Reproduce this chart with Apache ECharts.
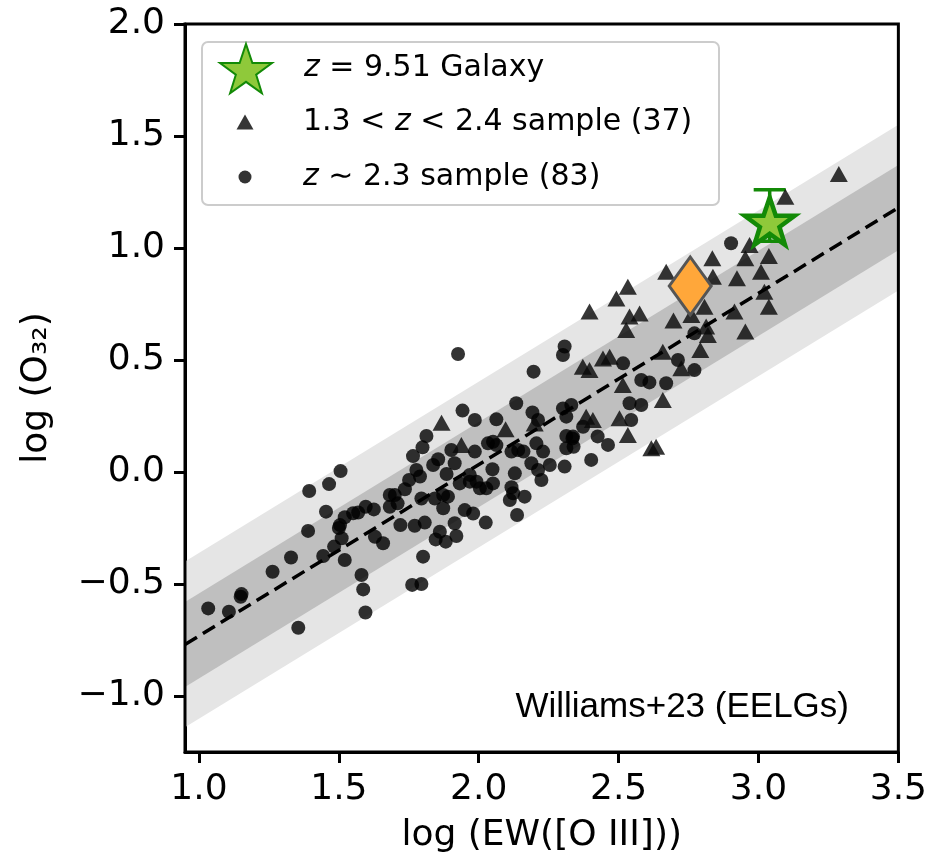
<!DOCTYPE html>
<html>
<head>
<meta charset="utf-8">
<script src="https://cdn.jsdelivr.net/npm/echarts@6/dist/echarts.min.js"></script>
<style>
  html, body { margin: 0; padding: 0; background: #fff; }
  #chart { width: 930px; height: 863px; }
</style>
</head>
<body>
<div id="chart"></div>
<script>
// axis ticks
const xTicks = [1.0, 1.5, 2.0, 2.5, 3.0, 3.5]
const yTicks = [-1.0, -0.5, 0.0, 0.5, 1.0, 1.5, 2.0]

// fit line (Williams+23) and scatter bands
const fitX = [0.95, 3.5]
const fitY = [-0.77, 1.18]
const bandHalf = [0.37, 0.19]

// z~2.3 sample
const circles = [
  [1.033, -0.609], [1.107, -0.624], [1.152, -0.545], [1.149, -0.557], [1.263, -0.445], [1.329, -0.382], [1.355, -0.695],
  [1.394, -0.085], [1.390, -0.263], [1.454, -0.177], [1.465, -0.054], [1.506, 0.004], [1.444, -0.375], [1.483, -0.333],
  [1.521, -0.393], [1.504, -0.237], [1.500, -0.250], [1.510, -0.296], [1.521, -0.202], [1.551, -0.184], [1.569, -0.181],
  [1.596, -0.155], [1.625, -0.167], [1.581, -0.460], [1.587, -0.524], [1.595, -0.627], [1.629, -0.289],
  [1.762, -0.504], [1.795, -0.500],
  [2.134, 0.307], [1.942, 0.274], [1.986, 0.232], [2.063, 0.235], [2.192, 0.266], [2.212, 0.232], [2.301, 0.284], [2.331, 0.299], [2.313, 0.247],
  [1.813, 0.161], [1.799, 0.110], [1.765, 0.071], [1.777, 0.009], [1.751, -0.036], [1.790, -0.020], [1.855, 0.057], [1.902, 0.098], [1.914, 0.039], [1.885, -0.009],
  [1.986, 0.091], [2.051, 0.135], [2.033, 0.128], [2.063, 0.120], [2.117, 0.091], [2.141, 0.098], [2.160, 0.091], [2.206, 0.128], [2.230, 0.091], [2.188, 0.039],
  [2.254, 0.031], [2.307, 0.024], [2.313, 0.106], [2.339, 0.113], [2.337, 0.158], [2.212, 0.009], [2.224, -0.036], [2.129, -0.006], [2.049, 0.012],
  [1.968, -0.013], [1.932, -0.051], [1.992, -0.043], [2.004, -0.073], [2.051, -0.051], [2.027, -0.073], [2.117, -0.068], [2.111, -0.125], [2.123, -0.095],
  [2.164, -0.110], [1.682, -0.103], [1.700, -0.103], [1.682, -0.155], [1.736, -0.077], [1.795, -0.118], [1.843, -0.118], [1.873, -0.103], [1.890, -0.110],
  [1.873, -0.162], [1.950, -0.170], [1.980, -0.185], [2.025, -0.226], [2.137, -0.192], [1.720, -0.237], [1.771, -0.240], [1.807, -0.226], [1.914, -0.229],
  [1.861, -0.267], [1.846, -0.301], [1.882, -0.311], [1.920, -0.286], [1.658, -0.318], [1.801, -0.378], [1.837, 0.031], [1.968, -0.043], [1.710, -0.140],
  [1.926, 0.527], [2.307, 0.560], [2.301, 0.522], [2.196, 0.448], [2.402, 0.054], [2.462, 0.121], [2.425, 0.159], [2.539, 0.307], [2.581, 0.299],
  [2.545, 0.232], [2.581, 0.411], [2.610, 0.400], [2.670, 0.396], [2.712, 0.500], [2.771, 0.455], [2.902, 1.021], [2.313, 0.161], [2.335, 0.150],
  [2.373, 0.202], [2.516, 0.485], [2.771, 0.619]
]

// 1.3<z<2.4 sample
const triangles = [
  [3.287, 1.330], [3.096, 1.229], [2.968, 1.013], [2.953, 0.954], [3.037, 0.964], [3.009, 0.894], [2.923, 0.865], [3.021, 0.805],
  [3.037, 0.738], [2.953, 0.627], [2.914, 0.716], [2.835, 0.954], [2.837, 0.872], [2.670, 0.894], [2.533, 0.827], [2.492, 0.775],
  [2.396, 0.716], [2.539, 0.694], [2.575, 0.708], [2.527, 0.634], [2.696, 0.676], [2.760, 0.701], [2.807, 0.738], [2.813, 0.649],
  [2.819, 0.612], [2.792, 0.545], [2.724, 0.463], [2.658, 0.537], [2.468, 0.515], [2.444, 0.507], [2.372, 0.470], [2.396, 0.455],
  [2.515, 0.388], [2.658, 0.321], [2.384, 0.247], [2.408, 0.232], [2.503, 0.240], [2.533, 0.165], [2.617, 0.106], [2.634, 0.113],
  [1.938, 0.120], [1.867, 0.220], [2.096, 0.191], [2.200, 0.217]
]

// z=9.51 galaxy with error, and the orange diamond
const galaxy = [[3.04, 1.12]]
const galaxyErr = [[3.04, 1.03, 1.26]]
const diamond = [[2.756, 0.83]]

const names = ['z = 9.51 Galaxy', '1.3 < z < 2.4 sample (37)', 'z \u223c 2.3 sample (83)']
const FONT = 'DejaVu Sans'
const STAR = 'path://M50,0L61.8,35.1L98.1,35.1L68.8,56.8L79.4,91L50,70L20.6,91L31.2,56.8L1.9,35.1L38.2,35.1Z'
const GREEN = '#138a07'

const fmtNum = v => (v < 0 ? '\u2212' : '') + Math.abs(v).toFixed(1)

// one legend per row so each marker keeps its own size
const mkLegend = (name, icon, w, h, cy, top) => ({
  data: [{ name: name, icon: icon }],
  left: 245 - w / 2, top: top, padding: 0, z: 6,
  itemWidth: w, itemHeight: h, itemGap: 0,
  selectedMode: false,
  textStyle: {
    fontFamily: FONT, fontSize: 30, color: '#000',
    padding: [0, 0, 0, 303 - (245 + w / 2 + 5)],
    rich: { i: { fontFamily: FONT, fontSize: 30, fontStyle: 'italic', color: '#000' } }
  },
  formatter: n => n.replace('z', '{i|z}')
})

const chart = echarts.init(document.getElementById('chart'))
chart.setOption({
  animation: false,
  grid: { left: 185, right: 31, top: 24, bottom: 111, show: true, z: 10,
    borderColor: '#000', borderWidth: 3, backgroundColor: 'transparent' },
  xAxis: {
    type: 'value', min: 0.95, max: 3.5,
    name: 'log (EW([O III]))', nameLocation: 'middle', nameGap: 66,
    nameTextStyle: { fontFamily: FONT, fontSize: 36, color: '#000' },
    axisLine: { show: true, onZero: false, lineStyle: { color: '#000', width: 3 } },
    axisTick: { show: true, customValues: xTicks, length: 11, lineStyle: { color: '#000', width: 3 } },
    axisLabel: { customValues: xTicks, formatter: fmtNum, margin: 20,
      fontFamily: FONT, fontSize: 36, color: '#000' },
    splitLine: { show: false }
  },
  yAxis: {
    type: 'value', min: -1.25, max: 2.0,
    name: 'log (O\u2083\u2082)', nameLocation: 'middle', nameGap: 130, nameRotate: 90,
    nameTextStyle: { fontFamily: FONT, fontSize: 36, color: '#000' },
    axisLine: { show: true, onZero: false, lineStyle: { color: '#000', width: 3 } },
    axisTick: { show: true, customValues: yTicks, length: 11, lineStyle: { color: '#000', width: 3 } },
    axisLabel: { customValues: yTicks, formatter: fmtNum, margin: 20,
      fontFamily: FONT, fontSize: 36, color: '#000' },
    splitLine: { show: false }
  },
  legend: [
    mkLegend(names[0], STAR, 52, 50, 68, 43),
    mkLegend(names[1], 'triangle', 17, 15, 120, 107),
    mkLegend(names[2], 'circle', 13, 13, 175, 162)
  ],
  graphic: [
    { type: 'rect', left: 201, top: 41, z: 3,
      shape: { width: 517, height: 163, r: 6 },
      style: { fill: '#fff', stroke: '#cccccc', lineWidth: 2 } },
    { type: 'text', right: 81, top: 690, z: 20,
      style: { text: 'Williams+23 (EELGs)', font: '35px "Liberation Sans"', fill: '#000' } }
  ],
  series: [
    {
      type: 'custom', name: 'bands', silent: true,
      data: bandHalf.map(h => [h]),
      renderItem: (params, api) => {
        const h = bandHalf[params.dataIndex]
        const pts = [
          api.coord([fitX[0], fitY[0] - h]), api.coord([fitX[1], fitY[1] - h]),
          api.coord([fitX[1], fitY[1] + h]), api.coord([fitX[0], fitY[0] + h])
        ]
        return { type: 'polygon', shape: { points: pts },
          style: { fill: params.dataIndex === 0 ? '#e5e5e5' : '#bfbfbf' } }
      }
    },
    {
      type: 'scatter', name: names[2], data: circles, symbol: 'circle', symbolSize: 14,
      itemStyle: { color: 'rgba(0,0,0,0.8)', opacity: 1 }
    },
    {
      type: 'scatter', name: names[1], data: triangles, symbol: 'triangle', symbolSize: [18, 16],
      itemStyle: { color: 'rgba(10,10,10,0.82)', opacity: 1 }
    },
    {
      type: 'line', name: 'fit', data: fitX.map((x, i) => [x, fitY[i]]), symbol: 'none',
      lineStyle: { color: '#000', width: 3.5, type: [14, 7] }
    },
    {
      type: 'scatter', name: 'diamond', data: diamond, symbol: 'diamond', symbolSize: [42, 58],
      itemStyle: { color: '#ffa73a', borderColor: '#555', borderWidth: 3, opacity: 1 }
    },
    {
      type: 'scatter', name: names[0], data: galaxy, symbol: STAR, symbolSize: 50, symbolKeepAspect: true,
      itemStyle: { color: '#8fc93a', borderColor: GREEN, borderWidth: 4.5, opacity: 1 }
    },
    {
      type: 'custom', name: 'err', silent: true, data: galaxyErr,
      renderItem: (params, api) => {
        const top = api.coord([api.value(0), api.value(2)])
        const bot = api.coord([api.value(0), api.value(1)])
        const st = { stroke: GREEN, lineWidth: 3.5 }
        return { type: 'group', children: [
          { type: 'line', shape: { x1: top[0], y1: top[1], x2: bot[0], y2: bot[1] }, style: st },
          { type: 'line', shape: { x1: top[0] - 16, y1: top[1], x2: top[0] + 16, y2: top[1] }, style: st },
          { type: 'line', shape: { x1: bot[0] - 16, y1: bot[1], x2: bot[0] + 16, y2: bot[1] }, style: st }
        ] }
      }
    }
  ]
})
</script>
</body>
</html>
